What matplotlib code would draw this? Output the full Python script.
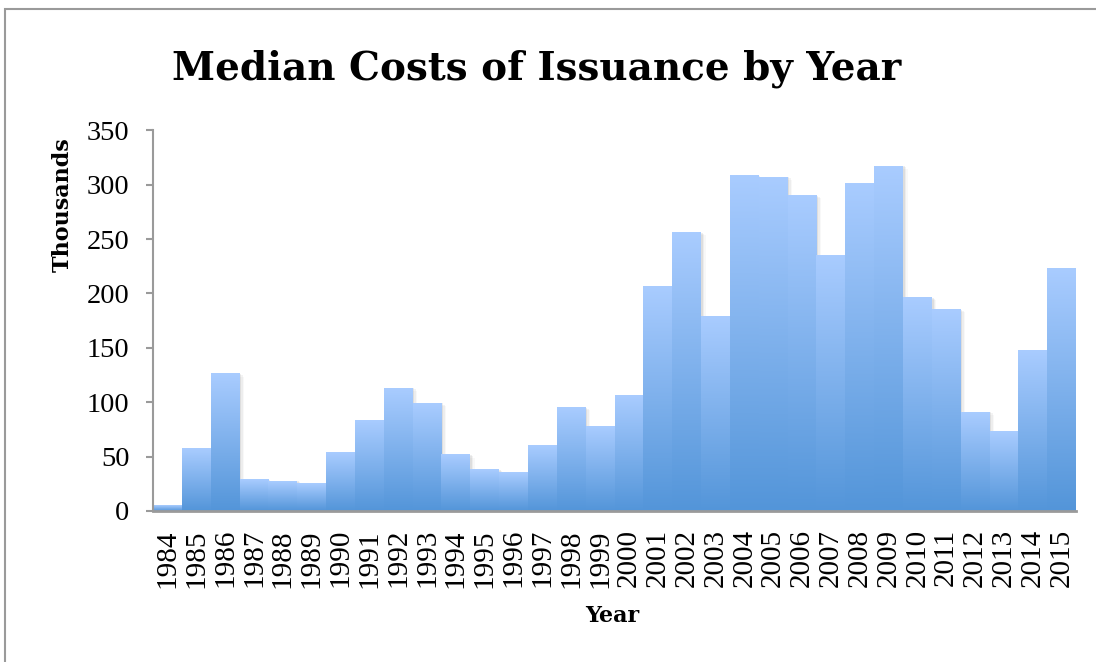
import numpy as np
import matplotlib
matplotlib.use("Agg")
import matplotlib.pyplot as plt
from matplotlib.colors import LinearSegmentedColormap
from matplotlib.patches import Rectangle

years = [str(y) for y in range(1984, 2016)]
costs = [5, 57, 126, 28.5, 27.5, 25.5, 54, 83, 113, 99,
         51.5, 38, 35, 60, 95, 78, 106, 206, 256, 179,
         308, 307, 290, 235, 301, 317, 196, 185, 91, 73,
         148, 223]

serif = ["Liberation Serif", "DejaVu Serif"]
bold_serif = ["DejaVu Serif", "Liberation Serif"]

fig = plt.figure(figsize=(10.96, 6.62), dpi=100)
ax = fig.add_axes([0.1396, 0.2281, 0.8422, 0.5751])

# frame around the chart area (only top and left fall inside the image)
fig.patches.append(Rectangle((5 / 1096, -0.1), 1.2, 1 - 9 / 662 + 0.1,
                             transform=fig.transFigure, fill=False,
                             edgecolor="#9a9a9a", linewidth=1.5))

grad = LinearSegmentedColormap.from_list("bars", ["#5395d9", "#a9ccff"])
ramp = np.linspace(0, 1, 256).reshape(-1, 1)

x = np.arange(len(years))
w = 1.0
for i, v in enumerate(costs):
    # soft shadow to the right of each bar
    for k, a in enumerate([0.10, 0.07, 0.04]):
        off = 0.06 + 0.05 * k
        ax.add_patch(Rectangle((i - w / 2 + off, 0), w, v - 1.2 * k,
                               facecolor="#606060", edgecolor="none",
                               alpha=a, zorder=1))
for i, v in enumerate(costs):
    ax.imshow(ramp, cmap=grad, origin="lower", aspect="auto",
              extent=(i - w / 2, i + w / 2, 0, v), zorder=2 + i * 0.001,
              interpolation="bilinear")

ax.set_xlim(-0.5, len(years) - 0.5)
ax.set_ylim(0, 350)
ax.set_yticks(range(0, 351, 50))
ax.set_xticks(x)
ax.set_xticklabels(years, rotation=90, fontfamily=serif, fontsize=21)
for lab in ax.get_yticklabels():
    lab.set_fontfamily(serif)
    lab.set_fontsize(20.5)

ax.tick_params(axis="x", length=0, pad=13)
ax.tick_params(axis="y", length=5, width=1.5, color="#9a9a9a", pad=12)

for s in ["top", "right"]:
    ax.spines[s].set_visible(False)
ax.spines["left"].set_color("#9a9a9a")
ax.spines["left"].set_linewidth(1.5)
ax.spines["bottom"].set_color("#9a9a9a")
ax.spines["bottom"].set_linewidth(2)
ax.spines["bottom"].set_zorder(5)

fig.text(63 / 1096, 1 - 205 / 662, "Thousands", rotation=90,
         fontfamily=bold_serif, fontweight="bold", fontsize=16,
         ha="center", va="center")
fig.text(612 / 1096, 1 - 616 / 662, "Year",
         fontfamily=bold_serif, fontweight="bold", fontsize=16,
         ha="center", va="center")

fig.text(537 / 1096, 1 - 79 / 662, "Median Costs of Issuance by Year",
         fontfamily=bold_serif, fontweight="bold", fontsize=28,
         ha="center", va="baseline")

fig.savefig("out.png", dpi=100)
